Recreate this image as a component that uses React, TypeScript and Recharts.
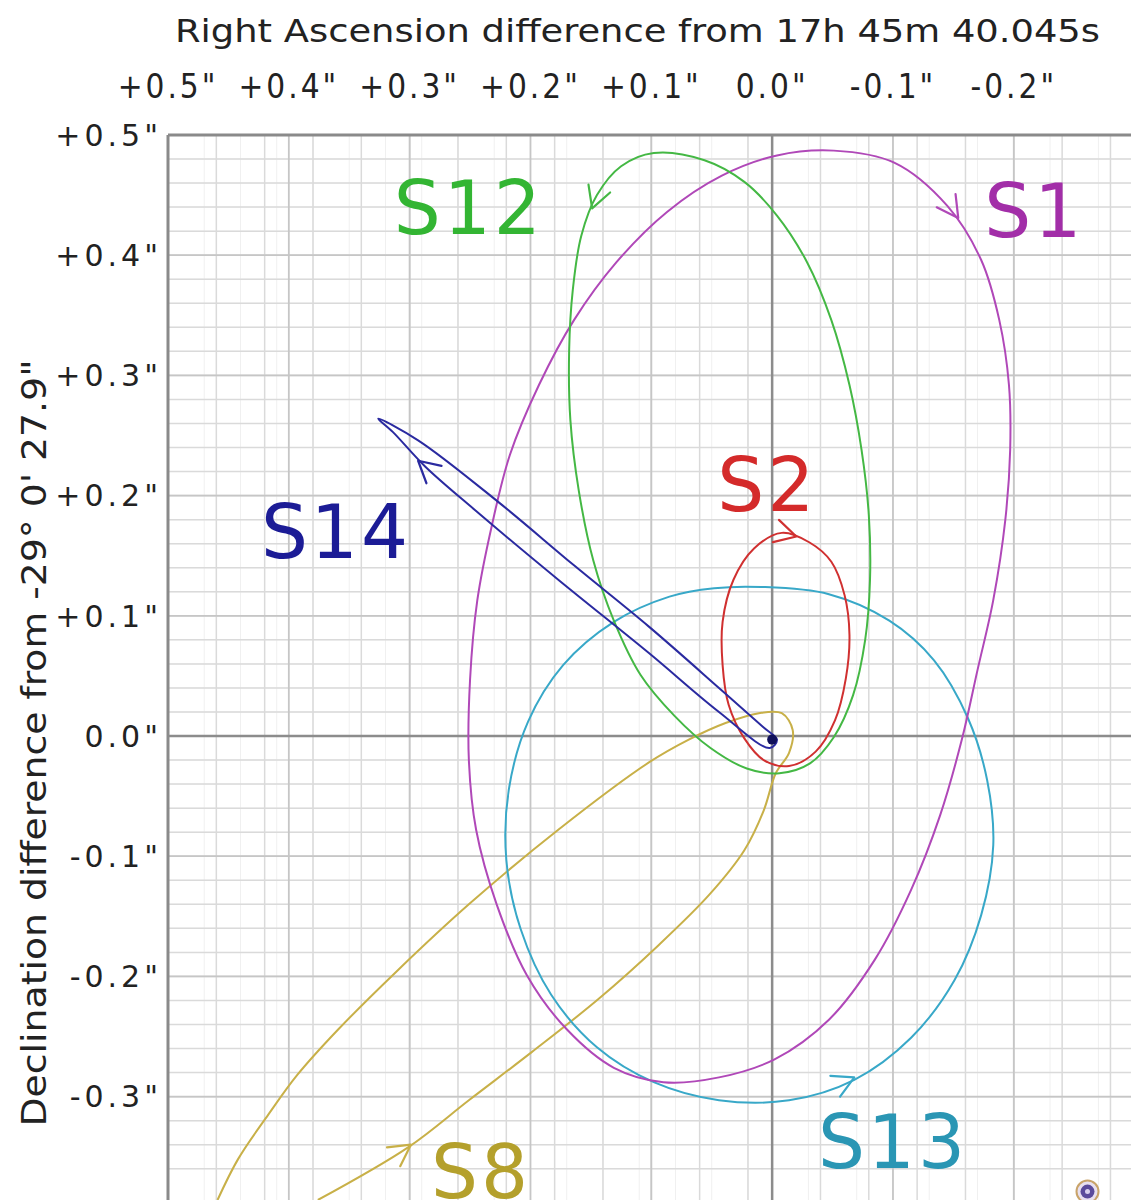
import {
  ComposedChart,
  Line,
  Scatter,
  XAxis,
  YAxis,
  CartesianGrid,
  ReferenceLine,
  ReferenceDot,
} from "recharts";

// offsets in arcseconds; RA grows to the left
const RA_TICKS = [0.5, 0.4, 0.3, 0.2, 0.1, 0, -0.1, -0.2];
const RA_LABELS = ['+0.5"', '+0.4"', '+0.3"', '+0.2"', '+0.1"', '0.0"', '-0.1"', '-0.2"'];
const DEC_TICKS = [0.5, 0.4, 0.3, 0.2, 0.1, 0, -0.1, -0.2, -0.3];
const DEC_LABELS = ['+0.5"', '+0.4"', '+0.3"', '+0.2"', '+0.1"', '0.0"', '-0.1"', '-0.2"', '-0.3"'];

const S1_ORBIT = [
  { x: -0.051, y: 0.487 }, { x: -0.101, y: 0.477 }, { x: -0.145, y: 0.441 },
  { x: -0.173, y: 0.396 }, { x: -0.188, y: 0.346 }, { x: -0.196, y: 0.292 },
  { x: -0.197, y: 0.238 }, { x: -0.193, y: 0.18 }, { x: -0.183, y: 0.113 },
  { x: -0.17, y: 0.055 }, { x: -0.157, y: -0.003 }, { x: -0.139, y: -0.066 },
  { x: -0.115, y: -0.128 }, { x: -0.085, y: -0.186 }, { x: -0.047, y: -0.236 },
  { x: -0.002, y: -0.269 }, { x: 0.044, y: -0.284 }, { x: 0.09, y: -0.288 },
  { x: 0.131, y: -0.276 }, { x: 0.17, y: -0.244 }, { x: 0.203, y: -0.199 },
  { x: 0.228, y: -0.14 }, { x: 0.245, y: -0.078 }, { x: 0.251, y: -0.02 },
  { x: 0.25, y: 0.047 }, { x: 0.244, y: 0.113 }, { x: 0.232, y: 0.175 },
  { x: 0.217, y: 0.234 }, { x: 0.193, y: 0.292 }, { x: 0.164, y: 0.346 },
  { x: 0.129, y: 0.394 }, { x: 0.087, y: 0.436 }, { x: 0.042, y: 0.466 },
  { x: -0.004, y: 0.483 },
];

const S12_ORBIT = [
  { x: 0.098, y: 0.485 }, { x: 0.125, y: 0.474 }, { x: 0.145, y: 0.45 },
  { x: 0.158, y: 0.416 }, { x: 0.165, y: 0.371 }, { x: 0.168, y: 0.321 },
  { x: 0.167, y: 0.263 }, { x: 0.16, y: 0.204 }, { x: 0.148, y: 0.146 },
  { x: 0.131, y: 0.096 }, { x: 0.109, y: 0.051 }, { x: 0.081, y: 0.017 },
  { x: 0.051, y: -0.01 }, { x: 0.021, y: -0.027 }, { x: -0.006, y: -0.031 },
  { x: -0.031, y: -0.023 }, { x: -0.051, y: -0.001 }, { x: -0.067, y: 0.034 },
  { x: -0.077, y: 0.08 }, { x: -0.081, y: 0.13 }, { x: -0.08, y: 0.184 },
  { x: -0.074, y: 0.238 }, { x: -0.064, y: 0.292 }, { x: -0.049, y: 0.346 },
  { x: -0.029, y: 0.394 }, { x: -0.004, y: 0.433 }, { x: 0.023, y: 0.461 },
  { x: 0.056, y: 0.479 },
];

const S2_ORBIT = [
  { x: -0.008, y: 0.169 }, { x: -0.031, y: 0.161 }, { x: -0.049, y: 0.145 },
  { x: -0.06, y: 0.117 }, { x: -0.064, y: 0.084 }, { x: -0.061, y: 0.048 },
  { x: -0.052, y: 0.013 }, { x: -0.036, y: -0.013 }, { x: -0.014, y: -0.025 },
  { x: 0.007, y: -0.02 }, { x: 0.023, y: -0.002 }, { x: 0.036, y: 0.026 },
  { x: 0.041, y: 0.059 }, { x: 0.041, y: 0.095 }, { x: 0.032, y: 0.13 },
  { x: 0.015, y: 0.156 },
];

const S13_ORBIT = [
  { x: 0.009, y: 0.124 }, { x: -0.047, y: 0.118 }, { x: -0.097, y: 0.096 },
  { x: -0.134, y: 0.063 }, { x: -0.162, y: 0.015 }, { x: -0.178, y: -0.037 },
  { x: -0.183, y: -0.091 }, { x: -0.173, y: -0.149 }, { x: -0.151, y: -0.203 },
  { x: -0.115, y: -0.251 }, { x: -0.068, y: -0.286 }, { x: -0.014, y: -0.303 },
  { x: 0.044, y: -0.303 }, { x: 0.098, y: -0.288 }, { x: 0.145, y: -0.259 },
  { x: 0.183, y: -0.215 }, { x: 0.208, y: -0.161 }, { x: 0.22, y: -0.103 },
  { x: 0.218, y: -0.045 }, { x: 0.202, y: 0.012 }, { x: 0.173, y: 0.059 },
  { x: 0.131, y: 0.095 }, { x: 0.085, y: 0.116 }, { x: 0.048, y: 0.123 },
];

const S14_ORBIT = [
  { x: 0.326, y: 0.264 }, { x: 0.293, y: 0.246 }, { x: 0.227, y: 0.195 },
  { x: 0.164, y: 0.142 }, { x: 0.102, y: 0.091 }, { x: 0.044, y: 0.04 },
  { x: 0.007, y: 0.007 }, { x: -0.004, y: -0.003 }, { x: 0.002, y: -0.01 },
  { x: 0.044, y: 0.02 }, { x: 0.102, y: 0.069 }, { x: 0.177, y: 0.13 },
  { x: 0.246, y: 0.188 }, { x: 0.287, y: 0.224 }, { x: 0.314, y: 0.253 },
];

// open track, incoming branch first
const S8_TRACK = [
  { x: 0.376, y: -0.386 }, { x: 0.301, y: -0.342 }, { x: 0.251, y: -0.303 },
  { x: 0.199, y: -0.263 }, { x: 0.144, y: -0.219 }, { x: 0.094, y: -0.174 },
  { x: 0.052, y: -0.132 }, { x: 0.023, y: -0.095 }, { x: 0.007, y: -0.062 },
  { x: -0.003, y: -0.031 }, { x: -0.014, y: -0.014 }, { x: -0.017, y: 0.005 },
  { x: -0.008, y: 0.019 }, { x: 0.011, y: 0.019 }, { x: 0.038, y: 0.011 },
  { x: 0.069, y: -0.003 }, { x: 0.102, y: -0.022 }, { x: 0.177, y: -0.078 },
  { x: 0.251, y: -0.14 }, { x: 0.31, y: -0.195 }, { x: 0.359, y: -0.244 },
  { x: 0.393, y: -0.282 }, { x: 0.417, y: -0.315 }, { x: 0.442, y: -0.352 },
  { x: 0.459, y: -0.386 },
];

const ARROWS = [
  { x: -0.154, y: 0.431, angle: 55, color: "#b048b8" },
  { x: 0.149, y: 0.439, angle: 110, color: "#44b844" },
  { x: -0.02, y: 0.166, angle: 15, color: "#d03030" },
  { x: -0.068, y: -0.284, angle: -25, color: "#38a8c8" },
  { x: 0.293, y: 0.229, angle: -139, color: "#2a2aa0" },
  { x: 0.299, y: -0.34, angle: -35, color: "#c8b048" },
];

const STAR_LABELS = [
  { x: 0.251, y: 0.44, text: "S12", color: "#33b533" },
  { x: -0.217, y: 0.437, text: "S1", color: "#a22ea8" },
  { x: 0.004, y: 0.209, text: "S2", color: "#d42a2a" },
  { x: 0.361, y: 0.17, text: "S14", color: "#1c1c96" },
  { x: -0.1, y: -0.337, text: "S13", color: "#2a96b4" },
  { x: 0.241, y: -0.362, text: "S8", color: "#b4a02c" },
];

function steps(from: number, to: number, step: number) {
  const out: number[] = [];
  for (let i = Math.round(from / step); i * step <= to + 1e-9; i++) {
    out.push(Number((i * step).toFixed(3)));
  }
  return out;
}

const X_FINE = steps(-0.29, 0.5, 0.01);
const X_MINOR = steps(-0.28, 0.5, 0.02);
const X_MAJOR = steps(-0.2, 0.5, 0.1);
const Y_FINE = steps(-0.38, 0.5, 0.01);
const Y_MINOR = steps(-0.38, 0.5, 0.02);
const Y_MAJOR = steps(-0.3, 0.5, 0.1);

/* centripetal Catmull-Rom through the read points (closed for full orbits) */
function makeCurve(closed: boolean) {
  return (context: any) => {
    let pts: number[][] = [];
    return {
      areaStart() {},
      areaEnd() {},
      lineStart() {
        pts = [];
      },
      point(x: number, y: number) {
        pts.push([x, y]);
      },
      lineEnd() {
        const n = pts.length;
        if (n < 2) return;
        const at = (i: number) =>
          closed ? pts[(i + n) % n] : pts[Math.max(0, Math.min(n - 1, i))];
        context.moveTo(pts[0][0], pts[0][1]);
        const segs = closed ? n : n - 1;
        for (let i = 0; i < segs; i++) {
          const p0 = at(i - 1);
          const p1 = at(i);
          const p2 = at(i + 1);
          const p3 = at(i + 2);
          const d01 = Math.hypot(p1[0] - p0[0], p1[1] - p0[1]);
          const d12 = Math.hypot(p2[0] - p1[0], p2[1] - p1[1]);
          const d23 = Math.hypot(p3[0] - p2[0], p3[1] - p2[1]);
          const a01 = Math.sqrt(d01);
          const a12 = Math.sqrt(d12);
          const a23 = Math.sqrt(d23);
          let c1x = p1[0];
          let c1y = p1[1];
          let c2x = p2[0];
          let c2y = p2[1];
          if (a01 > 1e-6) {
            const a = 2 * d01 + 3 * a01 * a12 + d12;
            const m = 3 * a01 * (a01 + a12);
            c1x = (p1[0] * a - p0[0] * d12 + p2[0] * d01) / m;
            c1y = (p1[1] * a - p0[1] * d12 + p2[1] * d01) / m;
          }
          if (a23 > 1e-6) {
            const b = 2 * d23 + 3 * a23 * a12 + d12;
            const m = 3 * a23 * (a23 + a12);
            c2x = (p2[0] * b + p1[0] * d23 - p3[0] * d12) / m;
            c2y = (p2[1] * b + p1[1] * d23 - p3[1] * d12) / m;
          }
          context.bezierCurveTo(c1x, c1y, c2x, c2y, p2[0], p2[1]);
        }
        if (closed) context.closePath();
      },
    };
  };
}

const closedCurve: any = makeCurve(true);
const openCurve: any = makeCurve(false);

function labelFor(ticks: number[], labels: string[], v: number) {
  const i = ticks.findIndex((t) => Math.abs(t - v) < 1e-6);
  return i >= 0 ? labels[i] : "";
}

function RaTick(props: any) {
  const { x, payload } = props;
  return (
    <text x={x} y={98} textAnchor="middle" fontFamily="DejaVu Sans Condensed" fontSize={33}
      letterSpacing={3} fill="#222">
      {labelFor(RA_TICKS, RA_LABELS, payload.value)}
    </text>
  );
}

function DecTick(props: any) {
  const { y, payload } = props;
  return (
    <text x={162} y={y} dy="0.36em" textAnchor="end" fontFamily="DejaVu Sans" fontSize={30}
      letterSpacing={4} fill="#222">
      {labelFor(DEC_TICKS, DEC_LABELS, payload.value)}
    </text>
  );
}

function Arrow(props: any) {
  const { cx, cy, payload } = props;
  const a = (payload.angle * Math.PI) / 180;
  const len = 24;
  const spread = 0.5;
  const x1 = cx - len * Math.cos(a - spread);
  const y1 = cy - len * Math.sin(a - spread);
  const x2 = cx - len * Math.cos(a + spread);
  const y2 = cy - len * Math.sin(a + spread);
  return (
    <path d={`M${x1},${y1} L${cx},${cy} L${x2},${y2}`} fill="none" stroke={payload.color}
      strokeWidth={2.2} strokeLinecap="round" strokeLinejoin="round" />
  );
}

function StarLabel(props: any) {
  const { cx, cy, payload } = props;
  return (
    <text x={cx} y={cy} dy="0.36em" textAnchor="middle" fontFamily="DejaVu Sans" fontSize={74}
      letterSpacing={3} fill={payload.color}>
      {payload.text}
    </text>
  );
}

function SgrA(props: any) {
  const { cx, cy } = props;
  return (
    <g>
      <circle cx={cx} cy={cy} r={11} fill="#e8e0f0" stroke="#c9a46a" strokeWidth={2} />
      <circle cx={cx} cy={cy} r={7} fill="#5b4b9c" />
      <circle cx={cx} cy={cy} r={2.5} fill="#d8d0ee" />
    </g>
  );
}

const orbits = [
  { key: "S8", data: S8_TRACK, color: "#c8b048", closed: false },
  { key: "S13", data: S13_ORBIT, color: "#38a8c8", closed: true },
  { key: "S1", data: S1_ORBIT, color: "#b048b8", closed: true },
  { key: "S12", data: S12_ORBIT, color: "#44b844", closed: true },
  { key: "S2", data: S2_ORBIT, color: "#d03030", closed: true },
  { key: "S14", data: S14_ORBIT, color: "#2a2aa0", closed: true },
];

export default function App() {
  return (
    <div style={{ position: "absolute", left: 0, top: 0, width: 1131, height: 1200, overflow: "hidden", background: "#fff" }}>
      <ComposedChart width={1131} height={1200} margin={{ top: 0, right: 0, bottom: 0, left: 0 }}>
        <CartesianGrid stroke="#f0f0f0" strokeWidth={1} verticalValues={X_FINE} horizontalValues={Y_FINE} />
        <CartesianGrid stroke="#dadada" strokeWidth={1.5} verticalValues={X_MINOR} horizontalValues={Y_MINOR} />
        <CartesianGrid stroke="#c6c6c6" strokeWidth={1.8} verticalValues={X_MAJOR} horizontalValues={Y_MAJOR} />
        <XAxis
          xAxisId={0}
          type="number"
          dataKey="x"
          orientation="top"
          reversed
          domain={[-0.297, 0.5]}
          allowDataOverflow
          ticks={RA_TICKS}
          height={135}
          tickLine={false}
          axisLine={{ stroke: "#8a8a8a", strokeWidth: 3 }}
          tick={<RaTick />}
        />
        <YAxis
          yAxisId={0}
          type="number"
          dataKey="y"
          domain={[-0.386, 0.5]}
          allowDataOverflow
          ticks={DEC_TICKS}
          width={168}
          tickLine={false}
          axisLine={{ stroke: "#8a8a8a", strokeWidth: 3 }}
          tick={<DecTick />}
        />
        <ReferenceLine x={0} stroke="#8c8c8c" strokeWidth={2.5} />
        <ReferenceLine y={0} stroke="#8c8c8c" strokeWidth={2.5} />
        {orbits.map((o) => (
          <Line
            key={o.key}
            data={o.data}
            dataKey="y"
            type={o.closed ? closedCurve : openCurve}
            stroke={o.color}
            strokeWidth={2}
            dot={false}
            activeDot={false}
            isAnimationActive={false}
          />
        ))}
        <Scatter data={ARROWS} dataKey="y" shape={<Arrow />} isAnimationActive={false} />
        <Scatter data={STAR_LABELS} dataKey="y" shape={<StarLabel />} isAnimationActive={false} />
        <ReferenceDot x={0} y={-0.003} r={5} fill="#10105a" stroke="none" />
        <ReferenceDot x={-0.261} y={-0.379} shape={<SgrA />} />
      </ComposedChart>
      <svg width={1131} height={1200} style={{ position: "absolute", left: 0, top: 0, pointerEvents: "none" }}>
        <text x={175} y={42} fontFamily="DejaVu Sans Condensed" fontSize={32} fill="#222"
          textLength={925} lengthAdjust="spacingAndGlyphs">
          Right Ascension difference from 17h 45m 40.045s
        </text>
        <text transform="translate(46,743) rotate(-90)" textAnchor="middle" fontFamily="DejaVu Sans Condensed"
          fontSize={33} fill="#222" textLength={767} lengthAdjust="spacingAndGlyphs">
          Declination difference from -29° 0' 27.9"
        </text>
      </svg>
    </div>
  );
}
